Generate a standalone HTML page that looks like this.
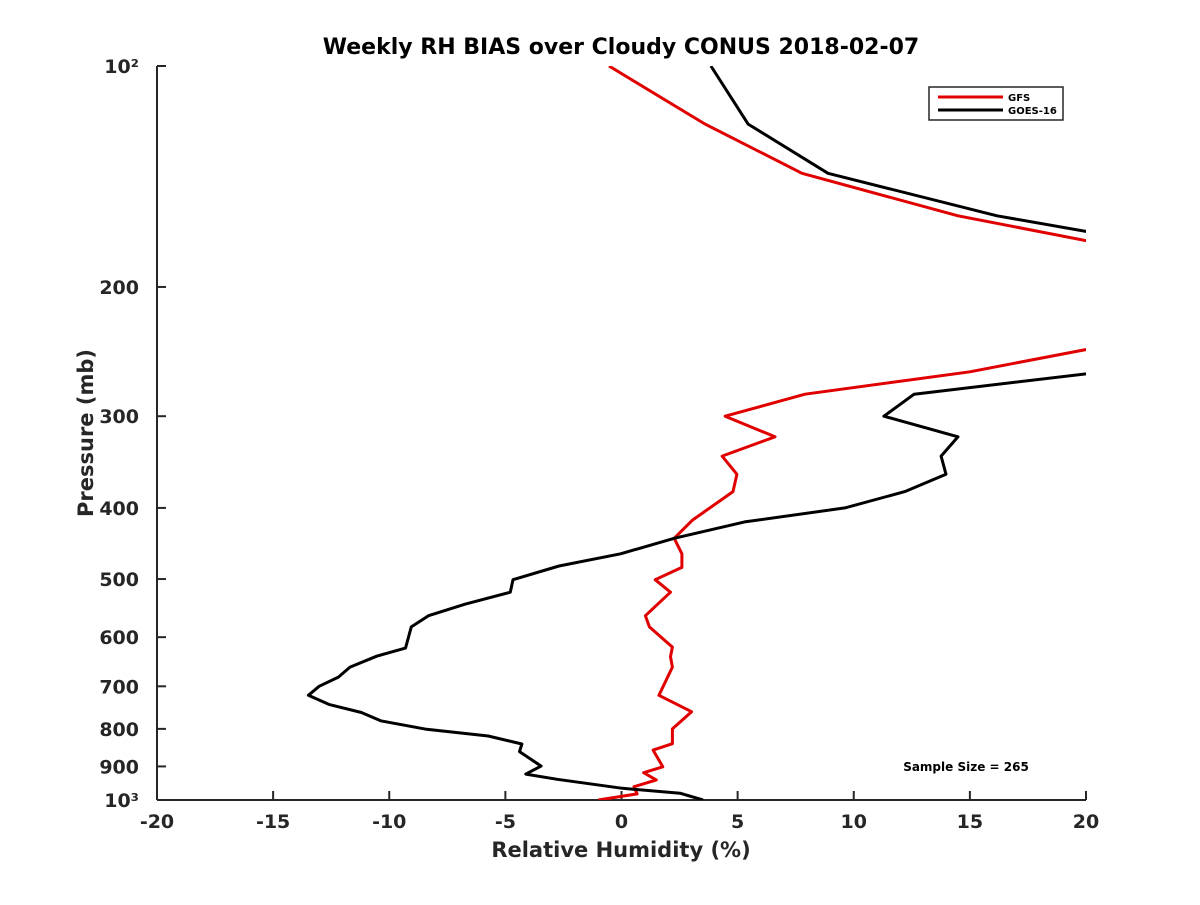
<!DOCTYPE html>
<html><head><meta charset="utf-8"><style>
body{margin:0;background:#fff}
svg text{font-family:"DejaVu Sans","Liberation Sans",sans-serif;font-weight:bold;fill:#262626}
</style></head><body>
<svg id="chart" width="1200" height="900" viewBox="0 0 1200 900" xmlns="http://www.w3.org/2000/svg">
<rect width="1200" height="900" fill="#fff"/>
<defs><clipPath id="plotclip"><rect x="157" y="66" width="929" height="734"/></clipPath></defs>
<text x="621" y="54" text-anchor="middle" font-size="22" style="fill:#000">Weekly RH BIAS over Cloudy CONUS 2018-02-07</text>
<g id="axes"></g>
<g id="series" clip-path="url(#plotclip)"></g>
<text x="621" y="857" text-anchor="middle" font-size="21">Relative Humidity (%)</text>
<text transform="translate(93,433) rotate(-90)" text-anchor="middle" font-size="21">Pressure (mb)</text>
<text x="966" y="771" text-anchor="middle" font-size="12" style="fill:#000">Sample Size = 265</text>
<g>
<rect x="929" y="87" width="134" height="33" fill="#fff" stroke="#262626" stroke-width="1.5"/>
<line x1="938" y1="97" x2="1003" y2="97" stroke="#e00000" stroke-width="3"/>
<text x="1008" y="101" font-size="10" style="fill:#000">GFS</text>
<line x1="938" y1="110" x2="1003" y2="110" stroke="#000" stroke-width="3"/>
<text x="1008" y="114" font-size="10" style="fill:#000">GOES-16</text>
</g>
</svg>
<script>
const xTicks = [-20,-15,-10,-5,0,5,10,15,20];
const yTicks = [100,200,300,400,500,600,700,800,900,1000];
const yTickLabels = ["10²","200","300","400","500","600","700","800","900","10³"];
const gfsP = [100,120,140,160,173,180,200,220,240,261,280,300,320,340,360,380,416,440,462,482,501,521,561,581,619,638,659,720,758,800,838,855,901,918,939,959,981,1000];
const gfsRH = [-0.54,3.6,7.77,14.49,20.0,23,30,30,21,15.0,7.9,4.46,6.61,4.33,4.97,4.8,3.04,2.27,2.6,2.6,1.45,2.11,1.03,1.2,2.19,2.11,2.19,1.61,3.02,2.19,2.19,1.36,1.78,0.95,1.5,0.54,0.67,-1.0];
const goesP = [100,120,140,160,168,180,200,240,262,280,300,320,340,360,380,400,418,440,462,480,501,521,541,561,581,621,637,659,680,700,720,741,760,780,801,818,839,859,899,922,937,964,979,1000];
const goesRH = [3.85,5.45,8.89,16.17,20.0,24,32,30,20.3,12.6,11.3,14.49,13.76,13.97,12.2,9.62,5.3,2.27,-0.04,-2.69,-4.67,-4.79,-6.74,-8.31,-9.05,-9.3,-10.54,-11.69,-12.19,-13.02,-13.48,-12.6,-11.2,-10.37,-8.39,-5.74,-4.29,-4.39,-3.46,-4.12,-2.77,0.04,2.52,3.51];

const NS="http://www.w3.org/2000/svg";
const X0=157,X1=1086,Y0=66,Y1=800;
function xs(v){return X0+(v+20)/40*(X1-X0);}
function ys(p){return Y0+(Math.log10(p)-2)*(Y1-Y0);}
function mk(tag,attrs,parent){const e=document.createElementNS(NS,tag);for(const k in attrs)e.setAttribute(k,attrs[k]);parent.appendChild(e);return e;}
const axes=document.getElementById('axes');
const ya=mk('line',{x1:X0,y1:Y0,x2:X0,y2:Y1,stroke:'#262626','stroke-width':2},axes);


const xa=mk('line',{x1:X0,y1:Y1,x2:X1,y2:Y1,stroke:'#262626','stroke-width':2},axes);


xTicks.forEach(v=>{
  const x=xs(v);
  const t=mk('line',{x1:x,y1:Y1,x2:x,y2:Y1-9,stroke:'#262626','stroke-width':2},axes);
  
  
  const l=mk('text',{x:x,y:Y1+28,'text-anchor':'middle','font-size':19},axes);
  
  
  l.textContent=String(v);
});
yTicks.forEach((p,i)=>{
  const y=ys(p);
  const t=mk('line',{x1:X0,y1:y,x2:X0+9,y2:y,stroke:'#262626','stroke-width':2},axes);
  
  
  const l=mk('text',{x:X0-18,y:y+7,'text-anchor':'end','font-size':19},axes);
  
  
  l.textContent=yTickLabels[i];
});
const series=document.getElementById('series');
function draw(P,V,color,name){
  const d=P.map((p,i)=>(i?'L':'M')+xs(V[i]).toFixed(1)+','+ys(p).toFixed(1)).join(' ');
  const pa=mk('path',{d:d,fill:'none',stroke:color,'stroke-width':3,'stroke-linejoin':'round'},series);
  
  
}
draw(gfsP,gfsRH,'#e00000','gfs-line');
draw(goesP,goesRH,'#000','goes16-line');
</script>
</body></html>
